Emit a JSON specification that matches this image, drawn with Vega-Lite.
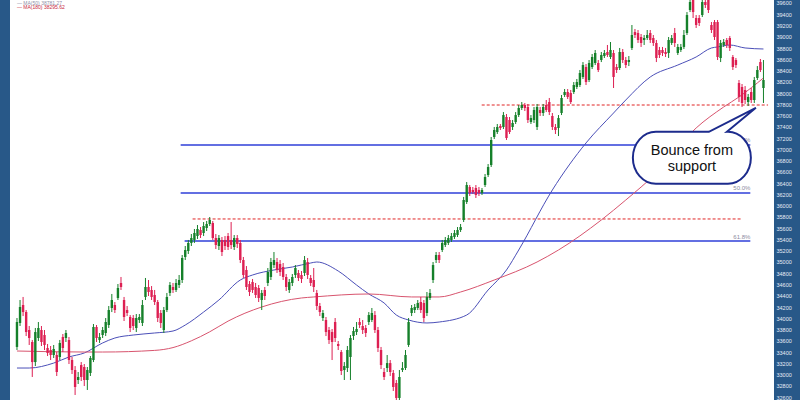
{
  "$schema": "https://vega.github.io/schema/vega-lite/v6.json",
  "width": 764,
  "height": 400,
  "autosize": {"type": "none"},
  "padding": {"left": 10, "top": 0, "right": 26, "bottom": 0},
  "background": "#285888",
  "config": {
    "view": {"fill": "white", "stroke": null},
    "text": {"font": "Liberation Sans"},
    "axisY": {"orient": "right", "title": null, "format": "d", "ticks": false, "domain": false, "grid": false, "labelColor": "#e6edf5", "labelFontSize": 5.5, "labelFont": "Liberation Sans", "labelPadding": 2, "labelFlush": false, "labelOverlap": false}
  },
  "datasets": {
    "candles": [
{"t":0,"o":33491,"h":34005,"l":33437,"c":33934},{"t":1,"o":33917,"h":34325,"l":33863,"c":34201},{"t":2,"o":34236,"h":34379,"l":34040,"c":34111},{"t":3,"o":34111,"h":34147,"l":33685,"c":33756},{"t":4,"o":33792,"h":33863,"l":33526,"c":33650},{"t":5,"o":33579,"h":33615,"l":32958,"c":33223},{"t":6,"o":33223,"h":33828,"l":33152,"c":33756},{"t":7,"o":33650,"h":33934,"l":33597,"c":33828},{"t":8,"o":33792,"h":33863,"l":33508,"c":33579},{"t":9,"o":33703,"h":33792,"l":33437,"c":33526},
{"t":10,"o":33473,"h":33544,"l":33330,"c":33384},{"t":11,"o":33437,"h":33508,"l":33259,"c":33348},{"t":12,"o":33348,"h":33526,"l":33295,"c":33455},{"t":13,"o":33348,"h":33401,"l":32975,"c":33046},{"t":14,"o":33313,"h":33615,"l":33259,"c":33562},{"t":15,"o":33668,"h":33721,"l":33401,"c":33473},{"t":16,"o":33650,"h":33792,"l":33579,"c":33739},{"t":17,"o":33615,"h":33668,"l":33188,"c":33259},{"t":18,"o":33259,"h":33313,"l":33011,"c":33082},{"t":19,"o":33082,"h":33152,"l":32638,"c":32780},
{"t":20,"o":32904,"h":33046,"l":32833,"c":32958},{"t":21,"o":33170,"h":33223,"l":32886,"c":32958},{"t":22,"o":33135,"h":33188,"l":32797,"c":32904},{"t":23,"o":32904,"h":33135,"l":32727,"c":33082},{"t":24,"o":33029,"h":33330,"l":32975,"c":33295},{"t":25,"o":33259,"h":33899,"l":33223,"c":33846},{"t":26,"o":33846,"h":33881,"l":33579,"c":33650},{"t":27,"o":33615,"h":33739,"l":33562,"c":33668},{"t":28,"o":33703,"h":33846,"l":33650,"c":33792},{"t":29,"o":33739,"h":34005,"l":33685,"c":33934},
{"t":30,"o":33881,"h":34218,"l":33828,"c":34147},{"t":31,"o":34183,"h":34432,"l":34111,"c":34325},{"t":32,"o":34236,"h":34289,"l":34094,"c":34147},{"t":33,"o":34361,"h":34609,"l":34325,"c":34538},{"t":34,"o":34627,"h":34734,"l":34503,"c":34556},{"t":35,"o":34325,"h":34379,"l":33952,"c":34023},{"t":36,"o":34147,"h":34218,"l":34040,"c":34094},{"t":37,"o":34023,"h":34058,"l":33756,"c":33828},{"t":38,"o":34005,"h":34058,"l":33792,"c":33863},{"t":39,"o":33828,"h":34076,"l":33756,"c":34005},
{"t":40,"o":33970,"h":34076,"l":33917,"c":34023},{"t":41,"o":33917,"h":34325,"l":33863,"c":34236},{"t":42,"o":34379,"h":34716,"l":34325,"c":34556},{"t":43,"o":34556,"h":34680,"l":34396,"c":34467},{"t":44,"o":34503,"h":34573,"l":34325,"c":34379},{"t":45,"o":34414,"h":34503,"l":34236,"c":34289},{"t":46,"o":34289,"h":34325,"l":33934,"c":34005},{"t":47,"o":34094,"h":34147,"l":33828,"c":33917},{"t":48,"o":33792,"h":34201,"l":33739,"c":34147},{"t":49,"o":34147,"h":34450,"l":34111,"c":34379},
{"t":50,"o":34450,"h":34644,"l":34396,"c":34591},{"t":51,"o":34556,"h":34627,"l":34450,"c":34503},{"t":52,"o":34503,"h":34698,"l":34467,"c":34627},{"t":53,"o":34591,"h":34769,"l":34538,"c":34680},{"t":54,"o":34680,"h":35124,"l":34627,"c":35071},{"t":55,"o":35089,"h":35284,"l":35035,"c":35213},{"t":56,"o":35195,"h":35391,"l":35142,"c":35338},{"t":57,"o":35338,"h":35497,"l":35284,"c":35426},{"t":58,"o":35391,"h":35586,"l":35338,"c":35515},{"t":59,"o":35461,"h":35657,"l":35409,"c":35586},
{"t":60,"o":35568,"h":35621,"l":35426,"c":35479},{"t":61,"o":35515,"h":35710,"l":35461,"c":35639},{"t":62,"o":35604,"h":35728,"l":35550,"c":35675},{"t":63,"o":35675,"h":35799,"l":35639,"c":35746},{"t":64,"o":35693,"h":35728,"l":35391,"c":35426},{"t":65,"o":35426,"h":35497,"l":35231,"c":35302},{"t":66,"o":35284,"h":35479,"l":35213,"c":35426},{"t":67,"o":35391,"h":35444,"l":35106,"c":35177},{"t":68,"o":35391,"h":35461,"l":35213,"c":35284},{"t":69,"o":35461,"h":35515,"l":35213,"c":35266},
{"t":70,"o":35391,"h":35710,"l":35231,"c":35302},{"t":71,"o":35266,"h":35479,"l":35213,"c":35426},{"t":72,"o":35426,"h":35479,"l":35248,"c":35320},{"t":73,"o":35338,"h":35391,"l":34982,"c":35035},{"t":74,"o":35035,"h":35089,"l":34716,"c":34769},{"t":75,"o":34858,"h":34928,"l":34503,"c":34556},{"t":76,"o":34609,"h":34662,"l":34396,"c":34467},{"t":77,"o":34644,"h":34698,"l":34450,"c":34503},{"t":78,"o":34556,"h":34627,"l":34361,"c":34414},{"t":79,"o":34538,"h":34591,"l":34289,"c":34361},
{"t":80,"o":34325,"h":34503,"l":34147,"c":34450},{"t":81,"o":34503,"h":34556,"l":34325,"c":34396},{"t":82,"o":34627,"h":34893,"l":34573,"c":34822},{"t":83,"o":34734,"h":35071,"l":34680,"c":35000},{"t":84,"o":34946,"h":35177,"l":34893,"c":35035},{"t":85,"o":35000,"h":35071,"l":34805,"c":34858},{"t":86,"o":34964,"h":35035,"l":34751,"c":34822},{"t":87,"o":34911,"h":34982,"l":34680,"c":34734},{"t":88,"o":34734,"h":34787,"l":34485,"c":34556},{"t":89,"o":34503,"h":34698,"l":34450,"c":34644},
{"t":90,"o":34627,"h":34787,"l":34573,"c":34734},{"t":91,"o":34769,"h":34946,"l":34716,"c":34893},{"t":92,"o":34805,"h":34858,"l":34662,"c":34716},{"t":93,"o":34769,"h":34840,"l":34627,"c":34698},{"t":94,"o":34805,"h":35106,"l":34751,"c":35035},{"t":95,"o":35000,"h":35071,"l":34698,"c":34769},{"t":96,"o":34716,"h":34769,"l":34573,"c":34627},{"t":97,"o":34680,"h":34893,"l":34467,"c":34556},{"t":98,"o":34450,"h":34503,"l":34147,"c":34218},{"t":99,"o":34218,"h":34272,"l":34040,"c":34111},
{"t":100,"o":34005,"h":34147,"l":33952,"c":34094},{"t":101,"o":33970,"h":34023,"l":33685,"c":33756},{"t":102,"o":33792,"h":33846,"l":33544,"c":33615},{"t":103,"o":33756,"h":33810,"l":33259,"c":33579},{"t":104,"o":33934,"h":34005,"l":33579,"c":33650},{"t":105,"o":33544,"h":33597,"l":33437,"c":33508},{"t":106,"o":33401,"h":33437,"l":32993,"c":33064},{"t":107,"o":33082,"h":33223,"l":32904,"c":33152},{"t":108,"o":33117,"h":33508,"l":33046,"c":33437},{"t":109,"o":33313,"h":33703,"l":32904,"c":33650},
{"t":110,"o":33685,"h":33846,"l":33615,"c":33774},{"t":111,"o":33756,"h":33934,"l":33703,"c":33810},{"t":112,"o":33934,"h":34005,"l":33828,"c":33881},{"t":113,"o":33863,"h":33970,"l":33721,"c":33792},{"t":114,"o":33828,"h":33881,"l":33668,"c":33739},{"t":115,"o":33934,"h":34111,"l":33881,"c":34058},{"t":116,"o":33970,"h":34183,"l":33934,"c":34094},{"t":117,"o":34058,"h":34129,"l":33739,"c":33792},{"t":118,"o":33792,"h":33846,"l":33401,"c":33473},{"t":119,"o":33437,"h":33491,"l":33099,"c":33170},
{"t":120,"o":33046,"h":33117,"l":32904,"c":32958},{"t":121,"o":33117,"h":33348,"l":33046,"c":33205},{"t":122,"o":33205,"h":33259,"l":32975,"c":33046},{"t":123,"o":33029,"h":33082,"l":32709,"c":32780},{"t":124,"o":32851,"h":32904,"l":32513,"c":32585},{"t":125,"o":32585,"h":33082,"l":32513,"c":32958},{"t":126,"o":33082,"h":33223,"l":33046,"c":33117},{"t":127,"o":33117,"h":33437,"l":33082,"c":33348},{"t":128,"o":33526,"h":34005,"l":33491,"c":33934},{"t":129,"o":34094,"h":34236,"l":34040,"c":34183},
{"t":130,"o":34147,"h":34254,"l":34094,"c":34201},{"t":131,"o":34183,"h":34325,"l":34147,"c":34272},{"t":132,"o":34289,"h":34379,"l":34094,"c":34147},{"t":133,"o":34272,"h":34325,"l":33934,"c":34005},{"t":134,"o":34094,"h":34467,"l":34040,"c":34379},{"t":135,"o":34361,"h":34520,"l":34325,"c":34450},{"t":136,"o":34680,"h":35000,"l":34627,"c":34946},{"t":137,"o":35035,"h":35177,"l":34982,"c":35124},{"t":138,"o":35124,"h":35177,"l":34982,"c":35035},{"t":139,"o":35213,"h":35391,"l":35177,"c":35338},
{"t":140,"o":35302,"h":35444,"l":35266,"c":35391},{"t":141,"o":35338,"h":35479,"l":35302,"c":35426},{"t":142,"o":35391,"h":35515,"l":35355,"c":35461},{"t":143,"o":35444,"h":35568,"l":35409,"c":35515},{"t":144,"o":35479,"h":35621,"l":35444,"c":35568},{"t":145,"o":35568,"h":35675,"l":35533,"c":35621},{"t":146,"o":35746,"h":36155,"l":35710,"c":36101},{"t":147,"o":36065,"h":36420,"l":36030,"c":36367},{"t":148,"o":36332,"h":36367,"l":36172,"c":36226},{"t":149,"o":36279,"h":36332,"l":36208,"c":36243},
{"t":150,"o":36314,"h":36367,"l":36137,"c":36190},{"t":151,"o":36279,"h":36332,"l":36172,"c":36226},{"t":152,"o":36226,"h":36314,"l":36190,"c":36279},{"t":153,"o":36367,"h":36563,"l":36332,"c":36510},{"t":154,"o":36545,"h":36740,"l":36510,"c":36687},{"t":155,"o":36722,"h":37220,"l":36687,"c":37167},{"t":156,"o":37220,"h":37398,"l":37184,"c":37344},{"t":157,"o":37308,"h":37451,"l":37273,"c":37398},{"t":158,"o":37415,"h":37451,"l":37344,"c":37380},{"t":159,"o":37398,"h":37663,"l":37362,"c":37610},
{"t":160,"o":37575,"h":37628,"l":37167,"c":37202},{"t":161,"o":37522,"h":37575,"l":37273,"c":37308},{"t":162,"o":37398,"h":37522,"l":37344,"c":37469},{"t":163,"o":37486,"h":37663,"l":37451,"c":37610},{"t":164,"o":37610,"h":37788,"l":37575,"c":37735},{"t":165,"o":37735,"h":37841,"l":37699,"c":37788},{"t":166,"o":37788,"h":37824,"l":37681,"c":37735},{"t":167,"o":37753,"h":37806,"l":37469,"c":37522},{"t":168,"o":37486,"h":37610,"l":37451,"c":37557},{"t":169,"o":37522,"h":37753,"l":37469,"c":37699},
{"t":170,"o":37398,"h":37806,"l":37344,"c":37753},{"t":171,"o":37699,"h":37753,"l":37593,"c":37646},{"t":172,"o":37646,"h":37806,"l":37593,"c":37753},{"t":173,"o":37788,"h":37877,"l":37663,"c":37699},{"t":174,"o":37841,"h":37913,"l":37610,"c":37663},{"t":175,"o":37593,"h":37646,"l":37344,"c":37398},{"t":176,"o":37398,"h":37451,"l":37273,"c":37344},{"t":177,"o":37380,"h":37610,"l":37237,"c":37557},{"t":178,"o":37646,"h":37966,"l":37610,"c":37913},{"t":179,"o":37966,"h":38072,"l":37931,"c":38019},
{"t":180,"o":38019,"h":38072,"l":37895,"c":37931},{"t":181,"o":38001,"h":38055,"l":37806,"c":37841},{"t":182,"o":38019,"h":38196,"l":37984,"c":38143},{"t":183,"o":38108,"h":38250,"l":38072,"c":38196},{"t":184,"o":38143,"h":38410,"l":38108,"c":38357},{"t":185,"o":38286,"h":38551,"l":38250,"c":38498},{"t":186,"o":38463,"h":38516,"l":38143,"c":38196},{"t":187,"o":38232,"h":38587,"l":38196,"c":38534},{"t":188,"o":38463,"h":38694,"l":38427,"c":38641},{"t":189,"o":38534,"h":38765,"l":38498,"c":38712},
{"t":190,"o":38534,"h":38587,"l":38374,"c":38410},{"t":191,"o":38587,"h":38730,"l":38551,"c":38676},{"t":192,"o":38658,"h":38765,"l":38623,"c":38712},{"t":193,"o":38730,"h":38854,"l":38641,"c":38676},{"t":194,"o":38641,"h":38907,"l":38605,"c":38765},{"t":195,"o":38712,"h":38765,"l":38090,"c":38286},{"t":196,"o":38463,"h":38516,"l":38357,"c":38410},{"t":197,"o":38445,"h":38801,"l":38410,"c":38730},{"t":198,"o":38730,"h":38783,"l":38534,"c":38587},{"t":199,"o":38587,"h":38641,"l":38445,"c":38498},
{"t":200,"o":38551,"h":38658,"l":38480,"c":38587},{"t":201,"o":38801,"h":39209,"l":38765,"c":39031},{"t":202,"o":39084,"h":39138,"l":38978,"c":39031},{"t":203,"o":39067,"h":39120,"l":38890,"c":38943},{"t":204,"o":38996,"h":39049,"l":38819,"c":38890},{"t":205,"o":38943,"h":39031,"l":38854,"c":38978},{"t":206,"o":38978,"h":39120,"l":38943,"c":39031},{"t":207,"o":39067,"h":39120,"l":38890,"c":38943},{"t":208,"o":38978,"h":39031,"l":38837,"c":38890},{"t":209,"o":38890,"h":38943,"l":38551,"c":38623},
{"t":210,"o":38765,"h":38819,"l":38623,"c":38676},{"t":211,"o":38765,"h":38819,"l":38658,"c":38712},{"t":212,"o":38730,"h":38801,"l":38641,"c":38694},{"t":213,"o":38712,"h":38996,"l":38623,"c":38943},{"t":214,"o":38890,"h":39031,"l":38854,"c":38978},{"t":215,"o":39067,"h":39156,"l":38819,"c":38890},{"t":216,"o":38712,"h":38872,"l":38676,"c":38819},{"t":217,"o":38765,"h":38872,"l":38730,"c":38819},{"t":218,"o":38819,"h":39120,"l":38783,"c":39031},{"t":219,"o":39067,"h":39439,"l":39031,"c":39386},
{"t":220,"o":39475,"h":39689,"l":39439,"c":39617},{"t":221,"o":39653,"h":39706,"l":39333,"c":39439},{"t":222,"o":39333,"h":39386,"l":39156,"c":39209},{"t":223,"o":39333,"h":39386,"l":39191,"c":39245},{"t":224,"o":39386,"h":39689,"l":39351,"c":39617},{"t":225,"o":39617,"h":39706,"l":39511,"c":39564},{"t":226,"o":39706,"h":39742,"l":39422,"c":39475},{"t":227,"o":39209,"h":39262,"l":39067,"c":39120},{"t":228,"o":39262,"h":39298,"l":38943,"c":38996},{"t":229,"o":39262,"h":39298,"l":38587,"c":38641},
{"t":230,"o":38623,"h":38943,"l":38551,"c":38890},{"t":231,"o":38854,"h":38960,"l":38819,"c":38907},{"t":232,"o":38943,"h":38978,"l":38801,"c":38854},{"t":233,"o":38978,"h":39014,"l":38747,"c":38801},{"t":234,"o":38641,"h":38676,"l":38410,"c":38463},{"t":235,"o":38587,"h":38623,"l":38445,"c":38498},{"t":236,"o":38179,"h":38232,"l":37841,"c":37931},{"t":237,"o":38108,"h":38161,"l":37753,"c":37824},{"t":238,"o":38055,"h":38125,"l":37806,"c":37877},{"t":239,"o":37841,"h":37984,"l":37770,"c":37931},
{"t":240,"o":38019,"h":38090,"l":37824,"c":37877},{"t":241,"o":37877,"h":38286,"l":37824,"c":38232},{"t":242,"o":38268,"h":38480,"l":38232,"c":38410},{"t":243,"o":38551,"h":38605,"l":38374,"c":38410},{"t":244,"o":38090,"h":38587,"l":37824,"c":38232}
    ],
    "ma50": [
{"t":0,"v":33117},{"t":4,"v":33117},{"t":12,"v":33205},{"t":17,"v":33313},{"t":22,"v":33384},{"t":28,"v":33562},{"t":32,"v":33650},{"t":38,"v":33703},{"t":45,"v":33739},{"t":51,"v":33774},{"t":55,"v":33880},{"t":61,"v":34111},{"t":66,"v":34325},{"t":73,"v":34680},{"t":77,"v":34769},{"t":84,"v":34858},{"t":90,"v":34911},{"t":96,"v":34982},{"t":98,"v":35000},{"t":105,"v":34840},{"t":111,"v":34591},{"t":115,"v":34432},{"t":120,"v":34272},{"t":124,"v":34058},{"t":128,"v":33970},{"t":134,"v":33917},{"t":138,"v":33934},{"t":147,"v":34058},{"t":154,"v":34503},{"t":160,"v":34858},{"t":164,"v":35213},{"t":175,"v":36279},{"t":186,"v":37114},{"t":195,"v":37646},{"t":199,"v":37877},{"t":207,"v":38286},{"t":216,"v":38498},{"t":222,"v":38641},{"t":227,"v":38801},{"t":229,"v":38819},{"t":233,"v":38854},{"t":238,"v":38801},{"t":244,"v":38783}
    ],
    "ma180": [
{"t":0,"v":33419},{"t":22,"v":33401},{"t":28,"v":33401},{"t":45,"v":33430},{"t":51,"v":33480},{"t":57,"v":33600},{"t":63,"v":33760},{"t":69,"v":33950},{"t":80,"v":34201},{"t":93,"v":34361},{"t":97,"v":34379},{"t":115,"v":34432},{"t":129,"v":34379},{"t":138,"v":34379},{"t":145,"v":34467},{"t":156,"v":34680},{"t":170,"v":35000},{"t":177,"v":35213},{"t":191,"v":35746},{"t":199,"v":36101},{"t":209,"v":36581},{"t":222,"v":37380},{"t":231,"v":37753},{"t":236,"v":37931},{"t":244,"v":38268}
    ],
    "redlevels": [{"a":151.9,"b":245.5,"v":37788},{"a":57.4,"b":237,"v":35764}],
    "bluelevels": [{"a":53.5,"b":239.7,"v":37078},{"a":53.5,"b":239.7,"v":36226},{"a":54.8,"b":239.7,"v":35373}],
    "fiblabels": [{"t":239.7,"v":37167,"s":"38.2%"},{"t":239.7,"v":36314,"s":"50.0%"},{"t":239.7,"v":35444,"s":"61.8%"}],
    "bubble": [{"t":220.6,"v":36850}],
    "bubbletext": [{"t":220.6,"v":36971,"s":"Bounce from"},{"t":220.6,"v":36680,"s":"support"}],
    "legend": [{"t":0,"v":39607,"s":"— MA(50) 38781.27","k":"g"},{"t":0,"v":39520,"s":"— MA(180) 38295.62","k":"r"}]
  },
  "layer": [
    {
      "data": {"name": "redlevels"},
      "mark": {"type": "rule", "color": "#e02525", "strokeWidth": 1, "strokeDash": [3, 2]},
      "encoding": {
        "x": {"field": "a", "type": "quantitative", "scale": {"domain": [-0.645, 245.81], "nice": false, "zero": false}, "axis": null},
        "x2": {"field": "b"},
        "y": {"field": "v", "type": "quantitative", "scale": {"domain": [32549, 39653], "nice": false, "zero": false}, "title": null, "axis": {"values": [32600,32800,33000,33200,33400,33600,33800,34000,34200,34400,34600,34800,35000,35200,35400,35600,35800,36000,36200,36400,36600,36800,37000,37200,37400,37600,37800,38000,38200,38400,38600,38800,39000,39200,39400,39600]}}
      }
    },
    {
      "data": {"name": "bluelevels"},
      "mark": {"type": "rule", "color": "#2f3fd8", "strokeWidth": 1.6},
      "encoding": {
        "x": {"field": "a", "type": "quantitative", "scale": {"domain": [-0.645, 245.81], "nice": false, "zero": false}, "axis": null},
        "x2": {"field": "b"},
        "y": {"field": "v", "type": "quantitative", "scale": {"domain": [32549, 39653], "nice": false, "zero": false}, "title": null, "axis": {"values": [32600,32800,33000,33200,33400,33600,33800,34000,34200,34400,34600,34800,35000,35200,35400,35600,35800,36000,36200,36400,36600,36800,37000,37200,37400,37600,37800,38000,38200,38400,38600,38800,39000,39200,39400,39600]}}
      }
    },
    {
      "data": {"name": "ma50"},
      "mark": {"type": "line", "color": "#4b4fb8", "strokeWidth": 1, "interpolate": "monotone"},
      "encoding": {
        "x": {"field": "t", "type": "quantitative", "scale": {"domain": [-0.645, 245.81], "nice": false, "zero": false}, "axis": null},
        "y": {"field": "v", "type": "quantitative", "scale": {"domain": [32549, 39653], "nice": false, "zero": false}, "title": null, "axis": {"values": [32600,32800,33000,33200,33400,33600,33800,34000,34200,34400,34600,34800,35000,35200,35400,35600,35800,36000,36200,36400,36600,36800,37000,37200,37400,37600,37800,38000,38200,38400,38600,38800,39000,39200,39400,39600]}}
      }
    },
    {
      "data": {"name": "ma180"},
      "mark": {"type": "line", "color": "#d8546e", "strokeWidth": 1, "interpolate": "monotone"},
      "encoding": {
        "x": {"field": "t", "type": "quantitative", "scale": {"domain": [-0.645, 245.81], "nice": false, "zero": false}, "axis": null},
        "y": {"field": "v", "type": "quantitative", "scale": {"domain": [32549, 39653], "nice": false, "zero": false}, "title": null, "axis": {"values": [32600,32800,33000,33200,33400,33600,33800,34000,34200,34400,34600,34800,35000,35200,35400,35600,35800,36000,36200,36400,36600,36800,37000,37200,37400,37600,37800,38000,38200,38400,38600,38800,39000,39200,39400,39600]}}
      }
    },
    {
      "data": {"name": "candles"},
      "mark": {"type": "rule", "strokeWidth": 1},
      "encoding": {
        "x": {"field": "t", "type": "quantitative", "scale": {"domain": [-0.645, 245.81], "nice": false, "zero": false}, "axis": null},
        "y": {"field": "l", "type": "quantitative", "scale": {"domain": [32549, 39653], "nice": false, "zero": false}, "title": null, "axis": {"values": [32600,32800,33000,33200,33400,33600,33800,34000,34200,34400,34600,34800,35000,35200,35400,35600,35800,36000,36200,36400,36600,36800,37000,37200,37400,37600,37800,38000,38200,38400,38600,38800,39000,39200,39400,39600]}},
        "y2": {"field": "h"},
        "color": {"condition": {"test": "datum.c >= datum.o", "value": "#15802a"}, "value": "#dd1f52"}
      }
    },
    {
      "data": {"name": "candles"},
      "mark": {"type": "bar", "width": 2.4},
      "encoding": {
        "x": {"field": "t", "type": "quantitative", "scale": {"domain": [-0.645, 245.81], "nice": false, "zero": false}, "axis": null},
        "y": {"field": "o", "type": "quantitative", "scale": {"domain": [32549, 39653], "nice": false, "zero": false}, "title": null, "axis": {"values": [32600,32800,33000,33200,33400,33600,33800,34000,34200,34400,34600,34800,35000,35200,35400,35600,35800,36000,36200,36400,36600,36800,37000,37200,37400,37600,37800,38000,38200,38400,38600,38800,39000,39200,39400,39600]}},
        "y2": {"field": "c"},
        "color": {"condition": {"test": "datum.c >= datum.o", "value": "#15802a"}, "value": "#dd1f52"}
      }
    },
    {
      "data": {"name": "fiblabels"},
      "mark": {"type": "text", "align": "right", "baseline": "middle", "fontSize": 6, "color": "#8c8ca0"},
      "encoding": {
        "x": {"field": "t", "type": "quantitative", "scale": {"domain": [-0.645, 245.81], "nice": false, "zero": false}, "axis": null},
        "y": {"field": "v", "type": "quantitative", "scale": {"domain": [32549, 39653], "nice": false, "zero": false}, "title": null, "axis": {"values": [32600,32800,33000,33200,33400,33600,33800,34000,34200,34400,34600,34800,35000,35200,35400,35600,35800,36000,36200,36400,36600,36800,37000,37200,37400,37600,37800,38000,38200,38400,38600,38800,39000,39200,39400,39600]}},
        "text": {"field": "s"}
      }
    },
    {
      "data": {"name": "bubble"},
      "mark": {"type": "point", "shape": "M -36 -26 L 17 -26 L 64 -50 L 35 -26 A 23 26 0 0 1 59 0 A 23 26 0 0 1 36 26 L -36 26 A 23 26 0 0 1 -59 0 A 23 26 0 0 1 -36 -26 Z", "size": 4, "filled": true, "fill": "white", "stroke": "#1c2b8c", "strokeWidth": 2, "opacity": 1, "fillOpacity": 1, "strokeOpacity": 1},
      "encoding": {
        "x": {"field": "t", "type": "quantitative", "scale": {"domain": [-0.645, 245.81], "nice": false, "zero": false}, "axis": null},
        "y": {"field": "v", "type": "quantitative", "scale": {"domain": [32549, 39653], "nice": false, "zero": false}, "title": null, "axis": {"values": [32600,32800,33000,33200,33400,33600,33800,34000,34200,34400,34600,34800,35000,35200,35400,35600,35800,36000,36200,36400,36600,36800,37000,37200,37400,37600,37800,38000,38200,38400,38600,38800,39000,39200,39400,39600]}}
      }
    },
    {
      "data": {"name": "bubbletext"},
      "mark": {"type": "text", "align": "center", "baseline": "middle", "fontSize": 14.5, "color": "#111111"},
      "encoding": {
        "x": {"field": "t", "type": "quantitative", "scale": {"domain": [-0.645, 245.81], "nice": false, "zero": false}, "axis": null},
        "y": {"field": "v", "type": "quantitative", "scale": {"domain": [32549, 39653], "nice": false, "zero": false}, "title": null, "axis": {"values": [32600,32800,33000,33200,33400,33600,33800,34000,34200,34400,34600,34800,35000,35200,35400,35600,35800,36000,36200,36400,36600,36800,37000,37200,37400,37600,37800,38000,38200,38400,38600,38800,39000,39200,39400,39600]}},
        "text": {"field": "s"}
      }
    },
    {
      "data": {"name": "legend"},
      "mark": {"type": "text", "align": "left", "baseline": "middle", "fontSize": 5},
      "encoding": {
        "x": {"field": "t", "type": "quantitative", "scale": {"domain": [-0.645, 245.81], "nice": false, "zero": false}, "axis": null},
        "y": {"field": "v", "type": "quantitative", "scale": {"domain": [32549, 39653], "nice": false, "zero": false}, "title": null, "axis": {"values": [32600,32800,33000,33200,33400,33600,33800,34000,34200,34400,34600,34800,35000,35200,35400,35600,35800,36000,36200,36400,36600,36800,37000,37200,37400,37600,37800,38000,38200,38400,38600,38800,39000,39200,39400,39600]}},
        "text": {"field": "s"},
        "color": {"condition": {"test": "datum.k == 'r'", "value": "#c8283c"}, "value": "#9090a8"}
      }
    }
  ]
}
